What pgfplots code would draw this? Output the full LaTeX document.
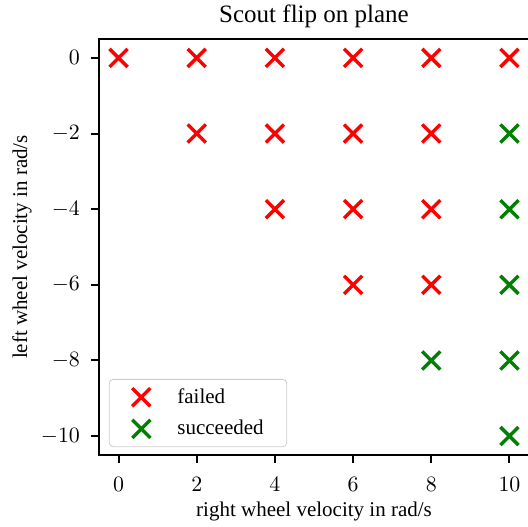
\documentclass[border=0pt]{standalone}
\usepackage{fontspec}
\setmainfont{Liberation Serif}
\usepackage{pgfplots}
\pgfplotsset{compat=1.18}
\definecolor{mplgreen}{RGB}{0,128,0}
\begin{document}
\begin{tikzpicture}
\begin{axis}[
  scale only axis,
  width=215pt, height=208pt,
  xmin=-0.5, xmax=10.5, ymin=-10.5, ymax=0.5,
  xtick={0,2,4,6,8,10}, ytick={-10,-8,-6,-4,-2,0},
  tick align=outside, xtick pos=bottom, ytick pos=left,
  major tick length=4pt,
  every tick/.style={black, line width=1pt},
  axis line style={line width=1pt},
  tick label style={font=\fontsize{11}{13}\selectfont},
  xticklabel style={yshift=-3.5pt},
  yticklabel style={xshift=-2pt},
  every axis title shift=0pt,
  title={Scout flip on plane},
  title style={font=\fontsize{12.5}{14}\selectfont, at={(axis description cs:0.5,1.0385)}, anchor=base},
  xlabel={right wheel velocity in rad/s},
  ylabel={left wheel velocity in rad/s},
  label style={font=\fontsize{10.5}{12}\selectfont},
  xlabel style={at={(axis description cs:0.5,-0.1466)}, anchor=base},
  ylabel style={at={(axis description cs:-0.1674,0.5)}, anchor=base},
  legend style={at={(0.023,0.019)}, anchor=south west, draw=black!20, rounded corners=2pt,
    font=\fontsize{10.5}{12}\selectfont, row sep=3pt, column sep=13.5pt, inner xsep=11.5pt, inner ysep=2.5pt,
    nodes={inner xsep=0pt}},
  legend cell align=left,
]
\addplot[only marks, mark=x, mark size=6.4pt, color=red, line width=1.7pt] coordinates {
(0,0) (2,0) (4,0) (6,0) (8,0) (10,0)
(2,-2) (4,-2) (6,-2) (8,-2)
(4,-4) (6,-4) (8,-4)
(6,-6) (8,-6)
};
\addlegendentry{failed}
\addplot[only marks, mark=x, mark size=6.4pt, color=mplgreen, line width=1.7pt] coordinates {
(10,-2) (10,-4) (10,-6) (8,-8) (10,-8) (10,-10)
};
\addlegendentry{succeeded}
\end{axis}
\pgfresetboundingbox
\path[use as bounding box] (-49.5pt,-35.5pt) rectangle (214.5pt,227.5pt);
\end{tikzpicture}
\end{document}
